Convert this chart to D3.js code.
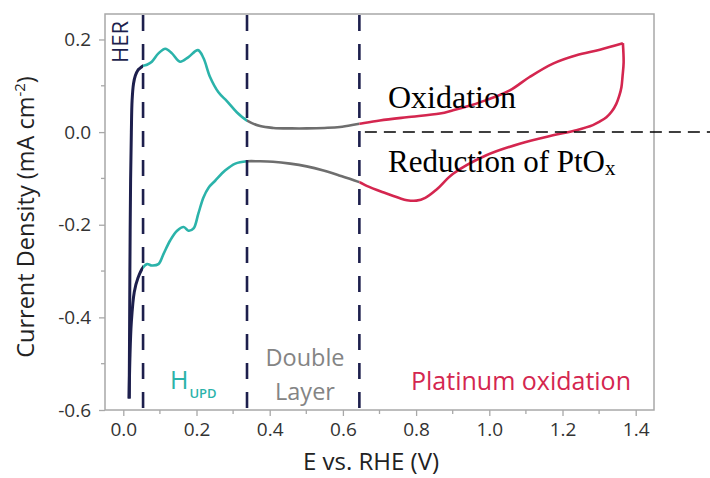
<!DOCTYPE html>
<html>
<head>
<meta charset="utf-8">
<script src="https://cdn.jsdelivr.net/npm/d3@7"></script>
<style>
  body { margin: 0; background: #fff; }
  svg { display: block; }
</style>
</head>
<body>
<div id="chart"></div>
<script>
// anodic sweep (upper branch), potential in V vs RHE, current in mA cm-2
const anodicE = [0.016, 0.017, 0.018, 0.020, 0.022, 0.024, 0.028, 0.033, 0.040, 0.046, 0.054,
    0.066, 0.078, 0.096, 0.115, 0.133, 0.155, 0.178, 0.204, 0.219, 0.237, 0.260, 0.283, 0.310,
    0.338, 0.374, 0.410, 0.460, 0.501, 0.550, 0.592, 0.645, 0.701, 0.774, 0.865, 0.901, 0.950,
    0.992, 1.056, 1.110, 1.174, 1.238, 1.302, 1.365];
const anodicJ = [-0.575, -0.45, -0.30, -0.10, 0.0, 0.068, 0.105, 0.122, 0.134, 0.138, 0.143,
    0.146, 0.152, 0.170, 0.180, 0.170, 0.152, 0.162, 0.177, 0.160, 0.119, 0.086, 0.067, 0.043,
    0.025, 0.013, 0.009, 0.008, 0.008, 0.009, 0.011, 0.018, 0.025, 0.032, 0.040, 0.047, 0.058,
    0.069, 0.090, 0.119, 0.148, 0.166, 0.178, 0.192];

// cathodic sweep (lower branch)
const cathodicE = [1.365, 1.367, 1.364, 1.361, 1.355, 1.347, 1.335, 1.320, 1.300, 1.283, 1.238,
    1.174, 1.083, 0.992, 0.901, 0.856, 0.825, 0.801, 0.775, 0.756, 0.710, 0.665, 0.645, 0.592,
    0.547, 0.501, 0.456, 0.409, 0.370, 0.338, 0.306, 0.278, 0.251, 0.233, 0.219, 0.205, 0.192,
    0.178, 0.165, 0.147, 0.128, 0.110, 0.096, 0.078, 0.065, 0.054, 0.040, 0.030, 0.022, 0.018,
    0.016];
const cathodicJ = [0.192, 0.150, 0.120, 0.097, 0.078, 0.061, 0.045, 0.032, 0.022, 0.015, 0.004,
    -0.007, -0.025, -0.050, -0.090, -0.124, -0.142, -0.148, -0.147, -0.143, -0.130, -0.116, -0.108,
    -0.094, -0.083, -0.074, -0.068, -0.064, -0.063, -0.063, -0.068, -0.083, -0.105, -0.120, -0.141,
    -0.176, -0.208, -0.213, -0.205, -0.213, -0.234, -0.263, -0.285, -0.288, -0.285, -0.292, -0.315,
    -0.345, -0.41, -0.49, -0.575];

// region borders (dashed lines) and colours
const borders = [0.054, 0.338, 0.645];
const regionColors = ['#1d1f4d', '#2bb3aa', '#6e6e6e', '#d4264f'];
const xTicks = [0.0, 0.2, 0.4, 0.6, 0.8, 1.0, 1.2, 1.4];
const yTicks = [-0.6, -0.4, -0.2, 0.0, 0.2];

const width = 710, height = 478;
const margin = {top: 14, right: 56, bottom: 68, left: 105};

const svg = d3.select('#chart').append('svg')
    .attr('width', width)
    .attr('height', height);

const x = d3.scaleLinear().domain([-0.05, 1.45]).range([margin.left, width - margin.right]);
const y = d3.scaleLinear().domain([-0.6, 0.255]).range([height - margin.bottom, margin.top]);

const sans = '"Open Sans", sans-serif';
const axisGray = '#a8a8a8';

// frame
svg.append('rect')
    .attr('x', x(-0.05)).attr('y', y(0.255))
    .attr('width', x(1.45) - x(-0.05)).attr('height', y(-0.6) - y(0.255))
    .attr('fill', 'none').attr('stroke', axisGray).attr('stroke-width', 1.5);

// axes
const xAxis = d3.axisBottom(x).tickValues(xTicks).tickSize(6).tickPadding(7)
    .tickFormat(d3.format('.1f'));
const gx = svg.append('g').attr('transform', `translate(0,${y(-0.6)})`).call(xAxis);
const yAxis = d3.axisLeft(y).tickValues(yTicks).tickSize(6).tickPadding(8)
    .tickFormat(d3.format('.1f'));
const gy = svg.append('g').attr('transform', `translate(${x(-0.05)},0)`).call(yAxis);

[gx, gy].forEach(g => {
    g.select('.domain').remove();
    g.selectAll('line').attr('stroke', axisGray).attr('stroke-width', 1.3);
    g.selectAll('text')
        .style('font-family', sans)
        .style('font-size', '19px')
        .attr('fill', '#333');
});
gy.selectAll('text').text(d => d3.format('.1f')(d).replace('−', '-'));

// minor ticks
const minorX = d3.range(0.1, 1.41, 0.2);
svg.append('g').selectAll('line').data(minorX).enter().append('line')
    .attr('x1', d => x(d)).attr('x2', d => x(d))
    .attr('y1', y(-0.6)).attr('y2', y(-0.6) + 4)
    .attr('stroke', axisGray).attr('stroke-width', 1.3);
const minorY = [-0.5, -0.3, -0.1, 0.1];
svg.append('g').selectAll('line').data(minorY).enter().append('line')
    .attr('x1', x(-0.05) - 4).attr('x2', x(-0.05))
    .attr('y1', d => y(d)).attr('y2', d => y(d))
    .attr('stroke', axisGray).attr('stroke-width', 1.3);

// clip regions so each potential window gets its own colour
const edges = [-0.05].concat(borders, [1.45]);
const defs = svg.append('defs');
regionColors.forEach((c, i) => {
    defs.append('clipPath').attr('id', 'clip' + i)
        .append('rect')
        .attr('x', x(edges[i])).attr('y', 0)
        .attr('width', x(edges[i + 1]) - x(edges[i]))
        .attr('height', height);
});

const line = d3.line()
    .x(d => x(d[0]))
    .y(d => y(d[1]))
    .curve(d3.curveCatmullRom.alpha(0.5));

const anodic = anodicE.map((e, i) => [e, anodicJ[i]]);
const cathodic = cathodicE.map((e, i) => [e, cathodicJ[i]]);

regionColors.forEach((c, i) => {
    const g = svg.append('g').attr('clip-path', `url(#clip${i})`);
    [anodic, cathodic].forEach(sweep => {
        g.append('path')
            .datum(sweep)
            .attr('d', line)
            .attr('fill', 'none')
            .attr('stroke', c)
            .attr('stroke-width', i === 0 ? 3 : 2.6)
            .attr('stroke-linejoin', 'round');
    });
});

// vertical dashed borders
svg.append('g').selectAll('line').data(borders).enter().append('line')
    .attr('x1', d => x(d)).attr('x2', d => x(d))
    .attr('y1', y(0.255) + 1).attr('y2', y(-0.6) + 5)
    .attr('stroke', '#1d1f4d')
    .attr('stroke-width', 2.6)
    .attr('stroke-dasharray', '16,13');

// horizontal dashed zero line
svg.append('line')
    .attr('x1', x(0.66)).attr('x2', width)
    .attr('y1', y(0)).attr('y2', y(0))
    .attr('stroke', '#000').attr('stroke-width', 1.5)
    .attr('stroke-dasharray', '12,7');

// axis titles
svg.append('text')
    .attr('x', 371).attr('y', 470)
    .attr('text-anchor', 'middle')
    .style('font-family', sans).style('font-size', '24px')
    .attr('fill', '#222')
    .text('E vs. RHE (V)');

const yt = svg.append('text')
    .attr('transform', 'translate(34,217) rotate(-90)')
    .attr('text-anchor', 'middle')
    .style('font-family', sans).style('font-size', '23.5px')
    .attr('fill', '#222');
yt.append('tspan').text('Current Density (mA cm');
yt.append('tspan').attr('dy', -9).style('font-size', '15px').text('-2');
yt.append('tspan').attr('dy', 9).text(')');

// region labels
svg.append('text')
    .attr('transform', 'translate(128,42) rotate(-90)')
    .attr('text-anchor', 'middle')
    .style('font-family', sans).style('font-size', '22px')
    .attr('fill', '#1d1f4d')
    .text('HER');

const hupd = svg.append('text')
    .attr('x', 170).attr('y', 389)
    .style('font-family', sans).style('font-size', '25px')
    .attr('fill', '#2bb3aa');
hupd.append('tspan').text('H');
hupd.append('tspan').attr('dy', 9).attr('dx', 1)
    .style('font-size', '13px').style('font-weight', 600).text('UPD');

svg.append('text')
    .attr('x', 305).attr('y', 366)
    .attr('text-anchor', 'middle')
    .style('font-family', sans).style('font-size', '23.5px')
    .attr('fill', '#848484')
    .text('Double');
svg.append('text')
    .attr('x', 305).attr('y', 400)
    .attr('text-anchor', 'middle')
    .style('font-family', sans).style('font-size', '23.5px')
    .attr('fill', '#848484')
    .text('Layer');

svg.append('text')
    .attr('x', 411).attr('y', 390)
    .style('font-family', sans).style('font-size', '25px')
    .attr('fill', '#d4264f')
    .text('Platinum oxidation');

// annotations
const serif = '"Liberation Serif", "Times New Roman", serif';
svg.append('text')
    .attr('x', 388).attr('y', 108)
    .style('font-family', serif).style('font-size', '32px')
    .attr('fill', '#000')
    .text('Oxidation');

const red = svg.append('text')
    .attr('x', 388).attr('y', 172)
    .style('font-family', serif).style('font-size', '31px')
    .attr('fill', '#000');
red.append('tspan').text('Reduction of PtO');
red.append('tspan').attr('dy', 3).style('font-size', '21px').text('x');
</script>
</body>
</html>
